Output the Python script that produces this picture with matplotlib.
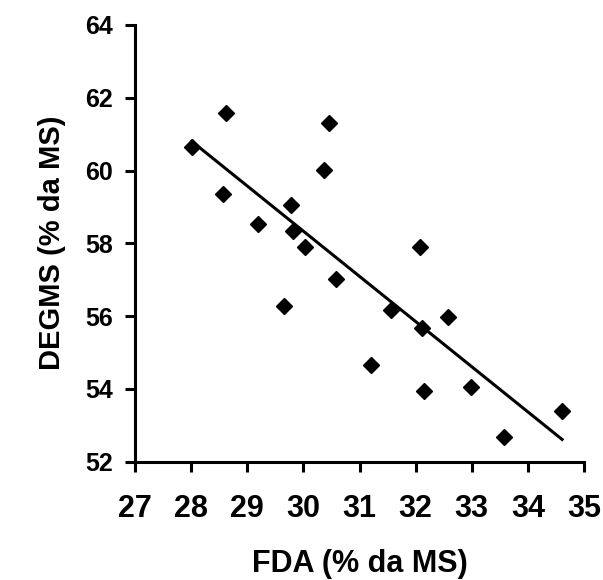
import matplotlib
matplotlib.use("Agg")
import matplotlib.pyplot as plt
import numpy as np

fda = [28.01, 28.62, 28.57, 29.20, 29.78, 29.82, 30.03, 29.66, 30.37, 30.45,
       30.58, 31.20, 31.56, 32.07, 32.11, 32.15, 32.57, 32.99, 33.57, 34.61]
degms = [60.64, 61.59, 59.35, 58.52, 59.05, 58.34, 57.91, 56.29, 60.01, 61.30,
         57.01, 54.66, 56.17, 57.91, 55.68, 53.94, 55.98, 54.04, 52.67, 53.39]
xticks = [27, 28, 29, 30, 31, 32, 33, 34, 35]
yticks = [52, 54, 56, 58, 60, 62, 64]

plt.rcParams['font.family'] = ['Liberation Sans', 'DejaVu Sans']
plt.rcParams['font.weight'] = 'bold'

W, H = 603, 580
fig = plt.figure(figsize=(6.03, 5.80), dpi=100)
ax = fig.add_axes([135 / W, 1 - 461.7 / H, (584 - 135) / W, (461.7 - 25) / H])

x = np.array(fda)
y = np.array(degms)
ax.plot(x, y, linestyle='none', marker='D', markersize=8.5, color='black', clip_on=False)
coef = np.polyfit(x, y, 1)
xl = np.array([x.min(), x.max()])
ax.plot(xl, np.polyval(coef, xl), color='black', linewidth=2.2)

ax.set_xlim(27, 35)
ax.set_ylim(52, 64)
ax.set_xticks(xticks)
ax.set_yticks(yticks)
ax.set_xticklabels([str(t) for t in xticks], fontsize=22, fontweight='bold')
ax.set_yticklabels([str(t) for t in yticks], fontsize=18, fontweight='bold')
for s in ['top', 'right']:
    ax.spines[s].set_visible(False)
for s in ['left', 'bottom']:
    ax.spines[s].set_linewidth(2.2)
ax.tick_params(axis='both', direction='out', length=7, width=2.2, color='black')
ax.tick_params(axis='x', pad=16)
ax.tick_params(axis='y', pad=9)

fig.text(359.5 / W, 1 - 572 / H, 'FDA (% da MS)', fontsize=22, fontweight='bold',
         ha='center', va='baseline')
fig.text(60 / W, 1 - 243 / H, 'DEGMS (% da MS)', fontsize=21, fontweight='bold',
         ha='center', va='baseline', rotation=90, rotation_mode='anchor')

fig.savefig('out.png', dpi=100)
